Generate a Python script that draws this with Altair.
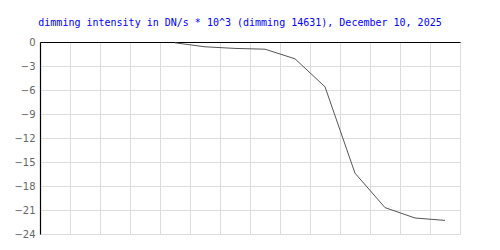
import altair as alt
import pandas as pd

# data (x = slot index, y = dimming intensity DN/s * 10^3)
slots = [4.5, 5.5, 6.5, 7.5, 8.5, 9.5, 10.5, 11.5, 12.5, 13.5]
values = [-0.1, -0.6, -0.8, -0.9, -2.1, -5.6, -16.4, -20.7, -22.0, -22.3]
y_ticks = [0, -3, -6, -9, -12, -15, -18, -21, -24]
x_grid = list(range(0, 15))

df = pd.DataFrame({"x": slots, "y": values})

chart = alt.Chart(df).mark_line(color="#555555", strokeWidth=1, interpolate="linear").encode(
    x=alt.X("x:Q", scale=alt.Scale(domain=[0, 14], nice=False, zero=False),
            axis=alt.Axis(orient="top", values=x_grid, labels=False, ticks=False,
                          domainColor="#000000", domainWidth=1.2, gridColor="#dddddd",
                          gridWidth=1, title=None)),
    y=alt.Y("y:Q", scale=alt.Scale(domain=[-24, 0], nice=False),
            axis=alt.Axis(values=y_ticks, ticks=False, labelPadding=5,
                          domainColor="#000000", domainWidth=1.2, gridColor="#dddddd",
                          gridWidth=1, labelColor="#666666", labelFont="DejaVu Sans",
                          labelFontSize=10, title=None)),
).properties(
    width=420,
    height=192,
    title=alt.TitleParams(
        "dimming intensity in DN/s * 10^3 (dimming 14631), December 10, 2025",
        color="#0000ff", font="DejaVu Sans Mono", fontSize=10, fontWeight="normal",
        anchor="middle", dx=-10, offset=9,
    ),
    autosize=alt.AutoSizeParams(type="none"),
    padding={"left": 40, "top": 42, "right": 40, "bottom": 16},
).configure_view(stroke=None).configure(background="#ffffff")

chart.save("out.html", embed_options={"renderer": "svg", "actions": False})
